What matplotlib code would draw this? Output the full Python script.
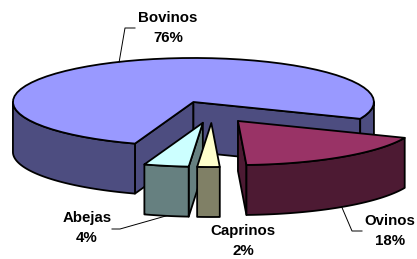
import numpy as np
import matplotlib.pyplot as plt
from matplotlib.patches import Polygon

# data
labels = ['Bovinos', 'Ovinos', 'Caprinos', 'Abejas']
values = [76, 18, 2, 4]

# styling
top_colors = ['#9999FF', '#993366', '#FFFFCC', '#CCFFFF']
side_colors = ['#4D4D80', '#4D1A33', '#808066', '#668080']

# layout (pixels)
W, H = 417, 259
CX, CY = 212, 112
RX, RY = 180.5, 44
DEPTH = 50
EXPLODE = 0.25
START = 251.1  # slices go clockwise from here

label_xy = [(168, 28), (390, 231), (243, 241), (87, 228)]
leader_pts = [[(125, 28), (135, 28)], [(352, 231), (362, 231)], None,
              [(120, 229), (112, 229)]]


def rim(c, t, dz=0.0):
    r = np.radians(t)
    return c[0] + RX * np.cos(r), c[1] - RY * np.sin(r) + dz


def arc(c, t0, t1, dz=0.0, n=60):
    ts = np.linspace(t0, t1, n)
    return [rim(c, t, dz) for t in ts]


fig = plt.figure(figsize=(W / 100, H / 100), dpi=100)
ax = fig.add_axes([0, 0, 1, 1])
ax.set_xlim(0, W)
ax.set_ylim(H, 0)
ax.axis('off')

total = float(sum(values))
slices = []
hi = START
for i, v in enumerate(values):
    lo = hi - v * 360.0 / total
    mid = (lo + hi) / 2
    r = np.radians(mid)
    c = (CX + EXPLODE * RX * np.cos(r), CY - EXPLODE * RY * np.sin(r))
    slices.append((i, lo, hi, mid, c))
    hi = lo

edge = dict(edgecolor='black', linewidth=1.3, joinstyle='round')

# side faces, back to front
z = 1
for i, lo, hi, mid, c in sorted(slices, key=lambda s: s[4][1]):
    faces = []
    for t, n in ((hi, hi + 90), (lo, lo - 90)):
        if np.sin(np.radians(n)) < -1e-6:
            p = rim(c, t)
            faces.append([c, p, (p[0], p[1] + DEPTH), (c[0], c[1] + DEPTH)])
    for k in (-1, 0, 1):
        a0 = max(lo, 180 + 360 * k)
        a1 = min(hi, 360 + 360 * k)
        if a1 > a0:
            faces.append(arc(c, a0, a1) + arc(c, a1, a0, DEPTH))
    for f in faces:
        ax.add_patch(Polygon(f, closed=True, facecolor=side_colors[i],
                             zorder=z, **edge))
        z += 1

# top faces
for i, lo, hi, mid, c in slices:
    ax.add_patch(Polygon([c] + arc(c, lo, hi), closed=True,
                         facecolor=top_colors[i], zorder=50, **edge))

# labels and leader lines
for i, lo, hi, mid, c in slices:
    lx, ly = label_xy[i]
    ax.text(lx, ly, f"{labels[i]}\n{values[i]}%", ha='center', va='center',
            fontsize=10.8, fontweight='bold', family='Liberation Sans',
            linespacing=1.6, zorder=60)
    if leader_pts[i] is not None:
        dz = 0 if np.sin(np.radians(mid)) > 0 else DEPTH
        pts = [rim(c, mid, dz)] + leader_pts[i]
        xs, ys = zip(*pts)
        ax.plot(xs, ys, color='black', lw=0.7, zorder=60)

fig.savefig('out.png', dpi=100)
